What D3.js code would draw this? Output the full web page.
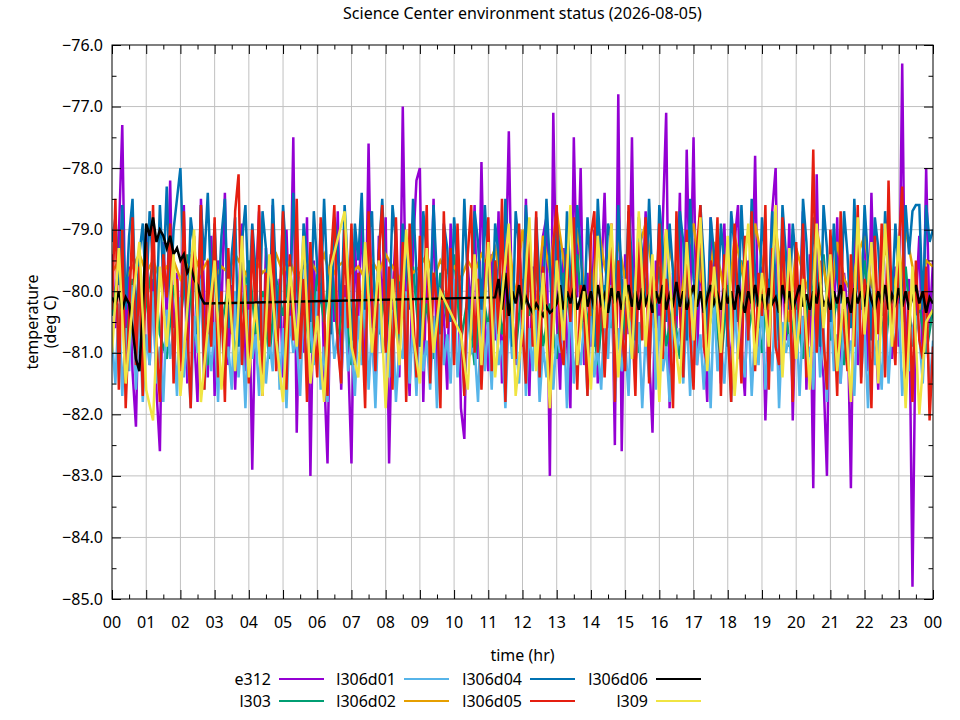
<!DOCTYPE html>
<html>
<head>
  <meta charset="utf-8">
  <title>Science Center environment status</title>
  <script src="https://cdn.jsdelivr.net/npm/d3@7"></script>
  <style>
    body { margin: 0; background: #fff; }
    text { font-family: "Noto Sans", sans-serif; fill: #000; }
  </style>
</head>
<body>
  <svg width="960" height="720" id="mainsvg"></svg>
  <script>
    // readings, one row per hour. fine series every 0.1 hr, coarse every 0.2 hr
    const e312 = [
      -79.4, -80.6, -79.1, -77.3, -80.8, -79.6, -81.3, -82.2, -79.5, -80.9,
      -79.0, -81.2, -79.8, -81.6, -82.6, -79.2, -80.4, -78.2, -81.0, -79.7,
      -80.9, -78.6, -81.5, -79.4, -80.7, -81.8, -78.5, -80.2, -81.4, -79.1,
      -81.7, -79.5, -80.3, -78.4, -81.2, -79.9, -81.6, -80.1, -78.9, -81.3,
      -79.6, -82.9, -80.0, -78.7, -81.5, -79.3, -80.8, -78.6, -81.1, -79.8,
      -81.4, -79.0, -80.6, -77.5, -82.3, -79.7, -81.0, -78.8, -83.0, -79.5,
      -80.7, -78.9, -81.3, -82.8, -79.4, -80.5, -78.7, -81.6, -79.9, -81.0,
      -82.8, -79.2, -80.4, -78.6, -81.2, -77.6, -80.8, -81.5, -79.1, -80.3,
      -78.8, -82.8, -80.1, -79.0, -81.4, -77.0, -80.6, -81.7, -79.3, -78.2,
      -78.0, -81.8, -79.5, -80.9, -78.5, -81.3, -79.8, -80.4, -81.6, -78.9,
      -80.7, -79.2, -81.9, -82.4, -79.6, -80.3, -78.6, -81.1, -77.9, -80.5,
      -81.3, -79.4, -80.8, -78.7, -81.5, -79.9, -77.4, -80.6, -81.2, -79.0,
      -80.9, -78.5, -81.7, -79.6, -80.2, -81.4, -79.1, -78.8, -83.0, -77.1,
      -80.4, -81.6, -79.3, -80.8, -81.9, -77.5, -80.1, -78.0, -81.2, -79.7,
      -80.9, -79.0, -81.5, -79.8, -78.4, -80.6, -79.2, -82.5, -76.8, -82.6,
      -79.4, -80.7, -77.5, -81.3, -79.6, -80.2, -78.7, -81.0, -82.3, -79.5,
      -80.8, -78.9, -77.1, -81.9, -79.7, -80.6, -78.4, -81.4, -77.7, -80.2,
      -77.5, -81.2, -79.3, -80.7, -81.8, -78.8, -80.1, -79.4, -81.5, -78.9,
      -80.6, -81.3, -79.2, -78.6, -80.9, -81.7, -79.5, -80.3, -77.8, -81.0,
      -79.6, -82.1, -80.4, -78.7, -78.0, -81.3, -79.5, -80.8, -78.9, -82.1,
      -79.8, -80.5, -78.7, -81.6, -79.4, -83.2, -78.1, -80.9, -81.4, -83.0,
      -79.1, -80.6, -78.8, -81.5, -79.7, -80.3, -83.2, -79.0, -81.2, -80.0,
      -78.9, -81.3, -78.4, -80.5, -81.6, -79.4, -80.8, -78.7, -81.1, -79.6,
      -80.9, -76.3, -81.4, -79.8, -84.8, -80.2, -79.1, -81.3, -78.0, -80.6,
      -79.5
    ];
    const l303 = [
      -80.4, -79.6, -80.9, -79.8, -81.0,
      -80.2, -79.5, -80.7, -81.1, -79.9,
      -80.5, -79.4, -80.8, -80.1, -81.2,
      -79.7, -80.6, -79.9, -81.0, -80.3,
      -79.5, -80.7, -80.0, -81.1, -79.8,
      -80.4, -79.6, -80.9, -80.2, -81.0,
      -79.7, -80.5, -79.4, -80.8, -80.1,
      -81.2, -79.9, -80.6, -79.5, -80.7,
      -80.0, -81.0, -79.8, -80.4, -79.6,
      -80.9, -80.2, -81.1, -79.7, -80.5,
      -79.4, -80.8, -80.1, -81.2, -79.9,
      -80.6, -79.5, -80.7, -80.0, -81.0,
      -79.8, -80.4, -79.6, -80.9, -80.2,
      -81.1, -79.7, -80.5, -79.4, -80.8,
      -80.1, -81.2, -79.9, -80.6, -79.5,
      -80.7, -80.0, -81.0, -79.8, -80.4,
      -79.6, -80.9, -80.2, -81.1, -79.7,
      -80.5, -79.4, -80.8, -80.1, -81.2,
      -79.9, -80.6, -79.5, -80.7, -80.0,
      -81.0, -79.8, -80.4, -79.6, -80.9,
      -80.2, -81.1, -79.7, -80.5, -79.4,
      -80.8, -80.1, -81.2, -79.9, -80.6,
      -79.5, -80.7, -80.0, -81.0, -79.8,
      -80.4, -79.6, -80.9, -80.2, -81.0,
      -80.3
    ];
    const l306d01 = [
      -80.8, -81.5, -80.2, -81.7, -80.6, -81.3, -79.9, -81.6, -80.4, -81.8,
      -80.7, -81.2, -80.0, -81.5, -80.9, -81.8, -80.3, -81.1, -80.6, -81.7,
      -80.1, -81.4, -80.8, -81.9, -80.4, -81.0, -79.8, -81.6, -80.7, -81.3,
      -80.5, -81.8, -80.2, -81.2, -80.9, -81.6, -80.0, -81.4, -80.6, -81.9,
      -80.3, -81.1, -80.7, -81.7, -80.1, -81.5, -80.8, -81.3, -79.9, -81.6,
      -80.6, -81.9, -80.4, -81.0, -80.8, -81.7, -80.2, -81.4, -80.5, -81.2,
      -80.0, -81.6, -80.9, -81.8, -80.3, -81.1, -80.7, -81.5, -80.1, -81.3,
      -80.8, -81.7, -80.4, -81.2, -79.9, -81.6, -80.6, -81.9, -80.2, -81.0,
      -80.7, -81.4, -80.3, -81.8, -80.9, -81.1, -80.0, -81.5, -80.5, -81.7,
      -80.2, -81.3, -80.8, -81.6, -80.4, -81.9, -80.1, -81.2, -80.7, -81.5,
      -79.8, -81.4, -80.6, -81.7, -80.3, -81.0, -80.9, -81.8, -80.2, -81.3,
      -80.5, -81.6, -80.0, -81.2, -80.8, -81.9, -80.4, -81.1, -80.7, -81.5,
      -80.1, -81.7, -80.6, -81.3, -80.2, -81.8, -80.9, -81.4, -80.3, -81.6,
      -80.7, -81.0, -80.4, -81.9, -80.0, -81.5, -80.8, -81.2, -80.5, -81.7,
      -80.2, -81.4, -80.9, -81.6, -80.3, -81.1, -79.9, -81.8, -80.6, -81.3,
      -80.8, -81.7, -80.1, -81.2, -80.5, -81.9, -80.7, -81.4, -80.0, -81.6,
      -80.4, -81.3, -80.9, -81.8, -80.2, -81.0, -80.6, -81.5, -80.3, -81.7,
      -80.0, -81.2, -80.7, -81.6, -80.4, -81.9, -80.1, -81.3, -80.8, -81.5,
      -80.5, -81.8, -80.2, -81.1, -80.9, -81.4, -80.3, -81.7, -80.6, -81.2,
      -80.1, -81.6, -80.8, -81.3, -80.0, -81.9, -80.5, -81.0, -80.7, -81.5,
      -80.3, -81.7, -80.4, -81.2, -80.9, -81.6, -80.2, -81.4, -80.6, -81.8,
      -80.0, -81.3, -80.7, -81.5, -80.4, -81.1, -80.8, -81.7, -80.1, -81.4,
      -80.6, -81.9, -80.3, -81.2, -80.8, -81.6, -80.0, -81.5, -80.5, -81.0,
      -80.2, -81.7, -80.9, -81.3, -80.6, -80.4, -80.7, -81.5, -80.3, -81.6,
      -80.8
    ];
    const l306d02 = [
      -79.7, -79.5, -79.8, -79.6, -79.4,
      -79.7, -79.5, -79.8, -79.6, -79.5,
      -79.8, -79.6, -79.4, -79.7, -79.5,
      -79.8, -79.6, -79.7, -79.4, -79.6,
      -79.8, -79.5, -79.7, -79.6, -79.4,
      -79.7, -79.5, -79.8, -79.6, -79.5,
      -79.7, -79.4, -79.8, -79.6, -79.5,
      -79.7, -79.6, -79.8, -79.5, -79.7,
      -79.4, -79.6, -79.8, -79.5, -79.7,
      -79.6, -79.4, -79.8, -79.5, -79.7,
      -79.6, -79.8, -79.5, -79.7, -79.4,
      -79.6, -79.3, -79.9, -79.2, -80.1,
      -79.0, -79.8, -80.3, -79.1, -79.7,
      -78.7, -79.5, -80.2, -79.0, -79.9,
      -80.4, -78.9, -79.6, -80.1, -79.2,
      -79.8, -80.5, -79.3, -78.9, -79.7,
      -80.2, -79.0, -79.6, -80.3, -79.4,
      -78.9, -79.8, -80.1, -79.2, -79.7,
      -80.4, -79.1, -79.6, -80.2, -78.9,
      -79.5, -80.3, -79.0, -79.8, -80.5,
      -79.3, -79.7, -80.1, -79.0, -79.6,
      -80.3, -79.2, -79.8, -80.0, -79.4,
      -79.1, -79.9, -80.2, -79.3, -79.7,
      -80.1, -79.0, -79.6, -80.3, -79.5,
      -79.6
    ];
    const l306d04 = [
      -79.2, -78.8, -79.9, -78.6, -80.3, -79.1, -78.5, -80.6, -79.4, -78.9,
      -80.1, -78.7, -79.6, -80.4, -78.6, -79.8, -78.3, -80.2, -79.0, -78.5,
      -78.0, -79.7, -80.5, -78.8, -79.3, -80.7, -78.6, -79.5, -78.4, -80.0,
      -78.9, -80.3, -79.1, -78.5, -80.6, -79.4, -78.8, -80.9, -79.2, -78.6,
      -80.2, -78.9, -79.7, -80.8, -78.7, -79.3, -80.4, -78.5, -79.9, -80.6,
      -78.6, -79.5, -80.3, -78.4, -79.8, -81.0, -78.9, -79.4, -80.5, -78.7,
      -79.6, -80.2, -78.5, -79.9, -80.7, -78.8, -79.3, -80.4, -78.6, -79.7,
      -80.8, -78.9, -79.5, -78.4, -80.3, -79.1, -78.7, -80.6, -79.4, -78.5,
      -79.9, -80.5, -78.6, -79.2, -80.8, -78.9, -79.6, -80.3, -78.5, -79.7,
      -80.9, -78.7, -79.4, -80.2, -78.6, -79.8, -80.7, -78.9, -79.3, -80.5,
      -78.8, -79.6, -80.4, -78.5, -79.9, -80.8, -78.7, -79.2, -80.3, -78.6,
      -79.7, -80.6, -78.9, -79.4, -80.2, -78.5, -79.8, -80.9, -78.7, -79.3,
      -80.4, -78.6, -79.5, -80.7, -78.8, -79.9, -80.3, -78.5, -79.6, -80.8,
      -78.9, -79.4, -80.6, -78.7, -79.8, -80.2, -78.6, -79.3, -80.5, -78.8,
      -79.7, -80.9, -78.5, -79.6, -80.4, -78.9, -79.2, -80.7, -78.6, -79.8,
      -80.3, -78.7, -79.5, -80.8, -78.8, -79.4, -80.2, -78.5, -79.9, -80.6,
      -78.6, -79.3, -80.5, -78.9, -79.7, -80.4, -78.7, -79.2, -80.8, -78.5,
      -79.8, -80.3, -78.6, -79.5, -80.7, -78.8, -79.4, -80.2, -78.9, -79.6,
      -80.9, -78.7, -79.3, -80.5, -78.6, -79.8, -80.4, -78.5, -79.7, -80.6,
      -78.8, -79.5, -80.2, -78.7, -79.9, -80.8, -78.6, -79.4, -80.3, -78.9,
      -79.6, -80.7, -78.5, -79.2, -80.4, -78.8, -79.7, -80.9, -78.6, -79.3,
      -80.5, -78.9, -79.8, -80.2, -78.7, -79.4, -80.6, -78.5, -79.9, -80.3,
      -78.6, -79.5, -80.8, -78.8, -79.3, -80.4, -78.7, -79.6, -80.2, -78.9,
      -79.8, -80.5, -78.6, -79.4, -78.7, -78.6, -78.6, -80.3, -78.6, -79.2,
      -79.0
    ];
    const l306d05 = [
      -80.3, -78.5, -81.6, -79.0, -81.9, -80.4, -78.8, -81.2, -79.6, -81.7,
      -79.2, -81.0, -78.6, -80.8, -81.8, -79.4, -80.1, -78.9, -81.5, -79.8,
      -81.3, -78.7, -80.6, -81.9, -79.1, -80.4, -78.6, -81.6, -79.5, -80.9,
      -78.8, -81.4, -80.0, -81.8, -79.3, -80.7, -78.7, -78.1, -81.2, -79.9,
      -81.5, -79.0, -80.5, -78.6, -81.7, -79.7, -80.9, -78.9, -81.3, -80.2,
      -78.7, -81.6, -79.4, -80.8, -78.5, -81.1, -79.8, -81.8, -79.2, -80.5,
      -81.4, -78.8, -80.3, -81.7, -79.5, -78.6, -80.9, -81.5, -79.0, -80.6,
      -78.9, -81.2, -79.7, -80.4, -81.9, -78.7, -80.1, -81.3, -79.4, -78.6,
      -81.0, -79.6, -81.6, -78.8, -80.7, -79.2, -81.8, -78.9, -80.3, -81.4,
      -79.1, -80.8, -78.6, -81.5, -79.7, -80.2, -81.9, -78.7, -80.6, -79.3,
      -81.2, -78.9, -80.5, -81.7, -79.4, -78.6, -81.0, -79.8, -81.6, -80.1,
      -78.8, -81.3, -79.5, -80.7, -78.5, -81.8, -79.2, -80.4, -81.1, -78.9,
      -80.6, -81.5, -79.0, -80.9, -78.7, -81.4, -79.6, -80.2, -81.9, -79.3,
      -78.6, -80.8, -81.2, -79.4, -80.5, -78.8, -81.6, -79.9, -80.3, -81.7,
      -79.1, -78.7, -81.0, -79.7, -81.4, -80.1, -78.9, -81.8, -79.5, -80.6,
      -81.3, -78.6, -80.4, -81.7, -79.2, -80.8, -78.8, -81.5, -79.6, -80.2,
      -78.9, -81.1, -79.8, -80.5, -81.9, -78.7, -80.3, -81.4, -79.0, -80.7,
      -81.6, -79.3, -78.6, -80.9, -81.2, -79.5, -80.1, -78.8, -81.7, -79.4,
      -80.6, -81.8, -78.9, -80.2, -81.5, -79.1, -80.8, -78.7, -81.3, -79.7,
      -80.4, -78.6, -81.6, -79.3, -80.9, -81.2, -78.8, -80.5, -79.6, -81.8,
      -79.2, -80.7, -78.9, -81.4, -80.1, -77.7, -81.0, -79.5, -80.8, -81.6,
      -79.0, -80.3, -81.7, -78.7, -80.6, -81.3, -79.4, -80.9, -78.6, -81.5,
      -79.8, -80.2, -81.9, -79.1, -80.7, -78.9, -81.4, -78.2, -80.5, -81.2,
      -79.3, -78.3, -81.6, -80.0, -81.8, -79.5, -80.8, -81.1, -79.6, -82.1,
      -80.9
    ];
    // null = no reading (the line is drawn straight across the gap)
    const l306d06 = [
      -80.1, -80.2, -80.0, -80.3, -80.1, -80.2, -80.6, -81.1, -81.3, -80.3,
      -78.9, -79.1, -78.8, -79.2, -79.0, -79.1, -79.3, -79.1, -79.4, -79.3,
      -79.5, -79.4, -79.7, -79.6, -79.8, -79.9, -80.1, -80.2, null, null,
      null, null, null, null, null, null, null, null, null, null,
      null, null, null, null, null, null, null, null, null, null,
      null, null, null, null, null, null, null, null, null, null,
      null, null, null, null, null, null, null, null, null, null,
      null, null, null, null, null, null, null, null, null, null,
      null, null, null, null, null, null, null, null, null, null,
      null, null, null, null, null, null, null, null, null, null,
      null, null, null, null, null, null, null, null, null, null,
      null, null, -80.1, -79.8, -80.3, -79.7, -80.4, -80.0, -80.2, -79.9,
      -80.3, -80.1, -80.25, -80.35, -80.2, -80.3, -80.4, -80.25, -80.35, -80.3,
      -80.2, -79.9, -80.3, -80.0, -80.2, -79.95, -80.3, -80.1, -79.9, -80.25,
      -80.0, -80.3, -79.9, -80.2, -80.05, -80.35, -79.95, -80.2, -80.0, -80.3,
      -80.1, -79.9, -80.25, -80.0, -80.3, -79.95, -80.2, -80.05, -80.35, -80.0,
      -80.2, -79.9, -80.3, -80.05, -80.2, -79.85, -80.25, -80.0, -80.3, -80.1,
      -79.9, -80.25, -80.0, -80.35, -80.1, -79.9, -80.2, -80.05, -80.3, -79.95,
      -80.2, -80.0, -80.3, -79.9, -80.15, -80.35, -80.0, -80.2, -79.9, -80.25,
      -80.05, -80.3, -79.95, -80.2, -80.1, -80.35, -79.9, -80.2, -80.0, -80.3,
      -80.1, -79.9, -80.25, -80.05, -80.3, -80.0, -80.2, -79.85, -80.25, -80.1,
      -80.3, -80.0, -80.2, -79.9, -80.3, -80.1, -80.35, -79.95, -80.2, -80.0,
      -80.25, -79.9, -80.15, -80.3, -80.0, -80.2, -79.9, -80.3, -80.05, -80.2,
      -79.95, -80.25, -80.0, -80.3, -80.1, -79.9, -80.2, -80.0, -80.35, -80.1,
      -80.2
    ];
    const l309 = [
      -81.0, -79.3, -81.5, -80.2, -79.2,
      -81.6, -82.1, -79.6, -80.9, -79.4,
      -81.7, -80.3, -79.0, -81.8, -80.6,
      -79.5, -81.6, -79.8, -81.3, -79.1,
      -81.4, -80.2, -81.7, -79.4, -80.8,
      -81.8, -79.6, -80.9, -79.1, -81.5,
      -80.4, -81.8, -79.6, null, -78.7,
      -80.9, -81.4, -79.2, -81.0, -79.5,
      -81.9, -79.8, -81.2, -79.0, -80.7,
      -81.5, -79.3, -81.0, -80.0, null,
      null, -80.7, -81.6, -79.4, -81.2,
      -79.2, -81.4, -80.1, -78.9, -81.7,
      -80.6, -78.8, -81.3, -79.7, -81.9,
      -79.5, -80.8, -78.6, -81.2, -80.0,
      -81.6, -79.1, -80.6, -78.9, -81.4,
      -79.8, -81.1, -78.7, -80.9, -79.4,
      -81.8, -79.0, -80.5, -81.5, -79.2,
      -80.8, -78.8, -81.3, -79.6, -81.0,
      -79.1, -81.7, -80.2, -78.9, -81.2,
      -79.7, -80.9, -78.6, -81.4, -79.3,
      -81.1, -79.8, -81.6, -78.9, -80.6,
      -79.4, -81.3, -80.0, -81.8, -78.8,
      -80.7, -79.2, -81.5, -78.9, -80.9,
      -79.1, -81.9, -79.6, -82.0, -80.5,
      -80.3
    ];

    const hoursFine = d3.range(241).map(i => i / 10);
    const hoursCoarse = d3.range(121).map(i => i / 5);

    const seriesNames = ['e312', 'l303', 'l306d01', 'l306d02', 'l306d04', 'l306d05', 'l306d06', 'l309'];
    const seriesColors = ['#9400d3', '#009e73', '#56b4e9', '#e69f00', '#0072b2', '#e51e10', '#000000', '#f0e442'];
    const seriesValues = [e312, l303, l306d01, l306d02, l306d04, l306d05, l306d06, l309];
    const seriesHours = [hoursFine, hoursCoarse, hoursFine, hoursCoarse, hoursFine, hoursFine, hoursFine, hoursCoarse];

    const hourTicks = d3.range(0, 25);
    const hourMinorTicks = d3.range(0.5, 24, 1);
    const tempTicks = d3.range(-85, -75.5, 1);
    const tempMinorTicks = d3.range(-84.5, -76, 1);

    const svg = d3.select('#mainsvg');
    const width = +svg.attr('width');
    const height = +svg.attr('height');
    const margin = {top: 45, right: 27, bottom: 121, left: 112};
    const innerWidth = width - margin.left - margin.right;
    const innerHeight = height - margin.top - margin.bottom;
    const fontSize = 16;

    const xScale = d3.scaleLinear().domain([0, 24]).range([0, innerWidth]);
    const yScale = d3.scaleLinear().domain([-85, -76]).range([innerHeight, 0]);

    const g = svg.append('g').attr('transform', `translate(${margin.left}, ${margin.top})`);

    // grid
    g.append('g').selectAll('line').data(hourTicks.slice(1, -1)).join('line')
      .attr('x1', d => xScale(d)).attr('x2', d => xScale(d))
      .attr('y1', 0).attr('y2', innerHeight)
      .attr('stroke', '#c0c0c0').attr('stroke-width', 1);
    g.append('g').selectAll('line').data(tempTicks.slice(1, -1)).join('line')
      .attr('y1', d => yScale(d)).attr('y2', d => yScale(d))
      .attr('x1', 0).attr('x2', innerWidth)
      .attr('stroke', '#c0c0c0').attr('stroke-width', 1);

    // series
    svg.append('defs').append('clipPath').attr('id', 'plotclip')
      .append('rect').attr('width', innerWidth).attr('height', innerHeight);
    const line = d3.line().x(d => xScale(d[0])).y(d => yScale(d[1]));
    const lines = g.append('g').attr('clip-path', 'url(#plotclip)');
    seriesNames.forEach((name, i) => {
      const pts = seriesHours[i].map((h, j) => [h, seriesValues[i][j]]).filter(d => d[1] !== null);
      lines.append('path').datum(pts)
        .attr('d', line)
        .attr('fill', 'none')
        .attr('stroke', seriesColors[i])
        .attr('stroke-width', 2.5);
    });

    // tick marks point inward on all four sides, labels drawn separately
    const tickAxes = [
      [d3.axisBottom(xScale).tickValues(hourTicks).tickSize(-9), `translate(0, ${innerHeight})`],
      [d3.axisBottom(xScale).tickValues(hourMinorTicks).tickSize(-4.5), `translate(0, ${innerHeight})`],
      [d3.axisTop(xScale).tickValues(hourTicks).tickSize(-9), 'translate(0, 0)'],
      [d3.axisTop(xScale).tickValues(hourMinorTicks).tickSize(-4.5), 'translate(0, 0)'],
      [d3.axisLeft(yScale).tickValues(tempTicks).tickSize(-9), 'translate(0, 0)'],
      [d3.axisLeft(yScale).tickValues(tempMinorTicks).tickSize(-4.5), 'translate(0, 0)'],
      [d3.axisRight(yScale).tickValues(tempTicks).tickSize(-9), `translate(${innerWidth}, 0)`],
      [d3.axisRight(yScale).tickValues(tempMinorTicks).tickSize(-4.5), `translate(${innerWidth}, 0)`]
    ];
    tickAxes.forEach(([ax, tr]) => {
      const a = g.append('g').attr('transform', tr).call(ax);
      a.select('.domain').remove();
      a.selectAll('.tick text').remove();
      a.selectAll('.tick line').attr('stroke', '#000');
    });

    const fmtHour = d => d3.format('02d')(d % 24);
    g.append('g').selectAll('text').data(hourTicks).join('text')
      .attr('x', d => xScale(d)).attr('y', innerHeight + 29)
      .attr('text-anchor', 'middle').attr('font-size', fontSize)
      .text(fmtHour);
    g.append('g').selectAll('text').data(tempTicks).join('text')
      .attr('x', -9).attr('y', d => yScale(d)).attr('dy', '0.35em')
      .attr('text-anchor', 'end').attr('font-size', fontSize)
      .text(d3.format('.1f'));

    g.append('rect').attr('width', innerWidth).attr('height', innerHeight)
      .attr('fill', 'none').attr('stroke', '#000').attr('stroke-width', 1);

    // titles
    svg.append('text').attr('x', margin.left + innerWidth / 2).attr('y', 19)
      .attr('text-anchor', 'middle').attr('font-size', fontSize)
      .text('Science Center environment status (2026-08-05)');
    svg.append('text').attr('x', margin.left + innerWidth / 2).attr('y', 661)
      .attr('text-anchor', 'middle').attr('font-size', fontSize).text('time (hr)');
    const yTitle = svg.append('text').attr('transform', 'translate(38, 322) rotate(-90)')
      .attr('text-anchor', 'middle').attr('font-size', fontSize);
    yTitle.append('tspan').attr('x', 0).attr('dy', 0).text('temperature');
    yTitle.append('tspan').attr('x', 0).attr('dy', 18).text('(deg C)');

    // legend, two rows, filled column by column
    const legendTextRight = [271, 396, 522, 648];
    const legendRowY = [679, 701];
    seriesNames.forEach((name, i) => {
      const col = Math.floor(i / 2), row = i % 2;
      const lx = legendTextRight[col], ly = legendRowY[row];
      svg.append('text').attr('x', lx).attr('y', ly).attr('dy', '0.35em')
        .attr('text-anchor', 'end').attr('font-size', fontSize).text(name);
      svg.append('line').attr('x1', lx + 8).attr('x2', lx + 53)
        .attr('y1', ly).attr('y2', ly)
        .attr('stroke', seriesColors[i]).attr('stroke-width', 2);
    });
  </script>
</body>
</html>
